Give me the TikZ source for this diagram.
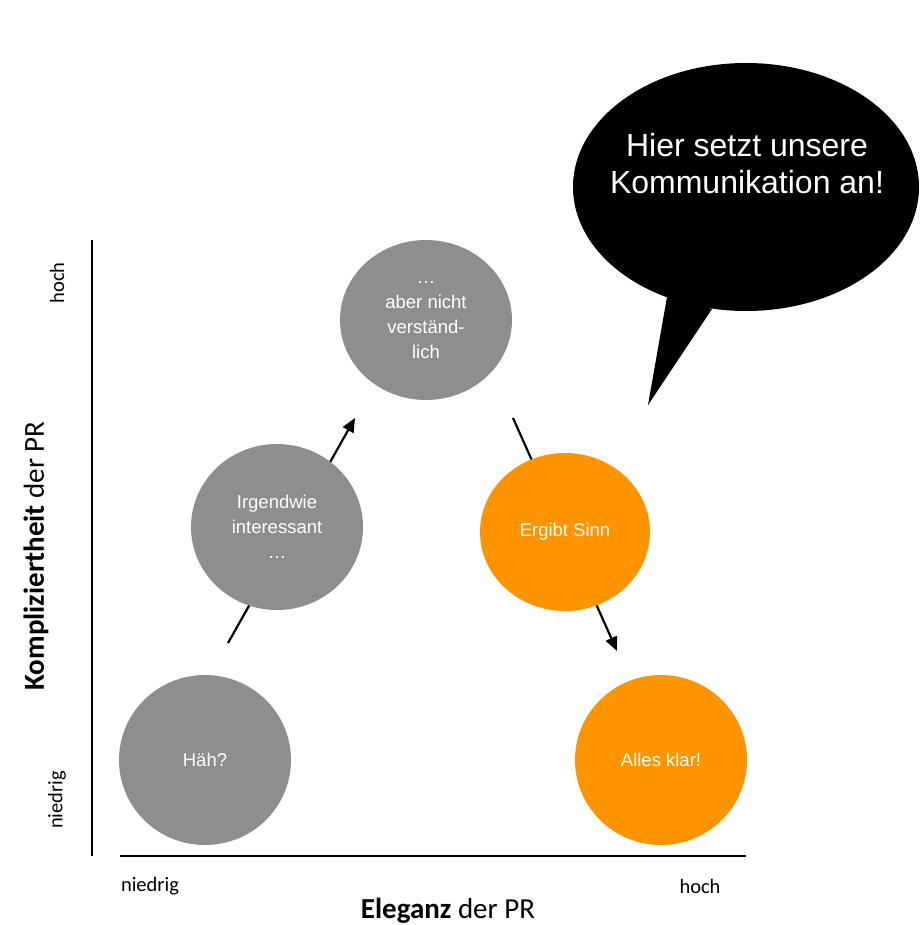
\documentclass[tikz,border=0pt]{standalone}
\usepackage{fontspec}
\setmainfont{Liberation Sans}
\newfontfamily\calib{Carlito}
\usetikzlibrary{arrows.meta,shapes.geometric}
\definecolor{bubgray}{HTML}{8E8E8E}
\definecolor{buborange}{HTML}{FD9400}
\tikzset{
  bub/.style={ellipse, inner sep=0pt, text=white, align=center, font=\fontsize{18.5}{25}\selectfont},
  graybub/.style={bub, fill=bubgray},
  orangebub/.style={bub, fill=buborange},
  flow/.style={line width=2.2pt, -{Triangle[length=14pt,width=12pt]}},
  axis/.style={line width=2.2pt},
  axlab/.style={font=\calib\fontsize{20.5}{24}\selectfont},
  axtitle/.style={font=\calib\fontsize{29}{34}\selectfont}
}
\begin{document}
\begin{tikzpicture}[x=1pt,y=-1pt]
\useasboundingbox (0,0) rectangle (919,925);
% speech bubble
\fill[black] (667,297) -- (648,405) -- (712,309) -- cycle;
\node[ellipse, fill=black, minimum width=346pt, minimum height=248pt, inner sep=0pt] (talk) at (746,187) {};
\node[text=white, align=center, font=\fontsize{32}{37}\selectfont] (talktext) at (747,164) {Hier setzt unsere\\Kommunikation an!};
% axes
\coordinate (ya) at (92,240);
\coordinate (yb) at (92,856);
\coordinate (xa) at (120,856);
\coordinate (xb) at (746,856);
\draw[axis] (ya) -- (yb);
\draw[axis] (xa) -- (xb);
% arrows
\coordinate (a1s) at (228,643);
\coordinate (a1e) at (355,418);
\coordinate (a2s) at (513,418);
\coordinate (a2e) at (617,651);
\draw[flow] (a1s) -- (a1e);
\draw[flow] (a2s) -- (a2e);
% bubbles
\node[graybub, minimum width=172pt, minimum height=170pt] (haeh) at (205,760) {Häh?};
\node[graybub, minimum width=172pt, minimum height=166pt] (irg) at (277,527) {Irgendwie\\interessant\\…};
\node[graybub, minimum width=172pt, minimum height=160pt] (aber) at (426,320) {…\\aber nicht\\verständ-\\lich};
\node[orangebub, minimum width=170pt, minimum height=158pt] (sinn) at (565,532) {Ergibt Sinn};
\node[orangebub, minimum width=172pt, minimum height=170pt] (klar) at (661,760) {Alles klar!};
% axis labels
\node[axlab] (xlow) at (150,886) {niedrig};
\node[axlab] (xhigh) at (700,886) {hoch};
\node[axtitle] (xtitle) at (448,911) {\textbf{Eleganz} der PR};
\node[axlab, rotate=90] (ylow) at (57,800) {niedrig};
\node[axlab, rotate=90] (yhigh) at (57,283) {hoch};
\node[axtitle, rotate=90] (ytitle) at (36,556) {\textbf{Kompliziertheit} der PR};
\end{tikzpicture}
\end{document}
